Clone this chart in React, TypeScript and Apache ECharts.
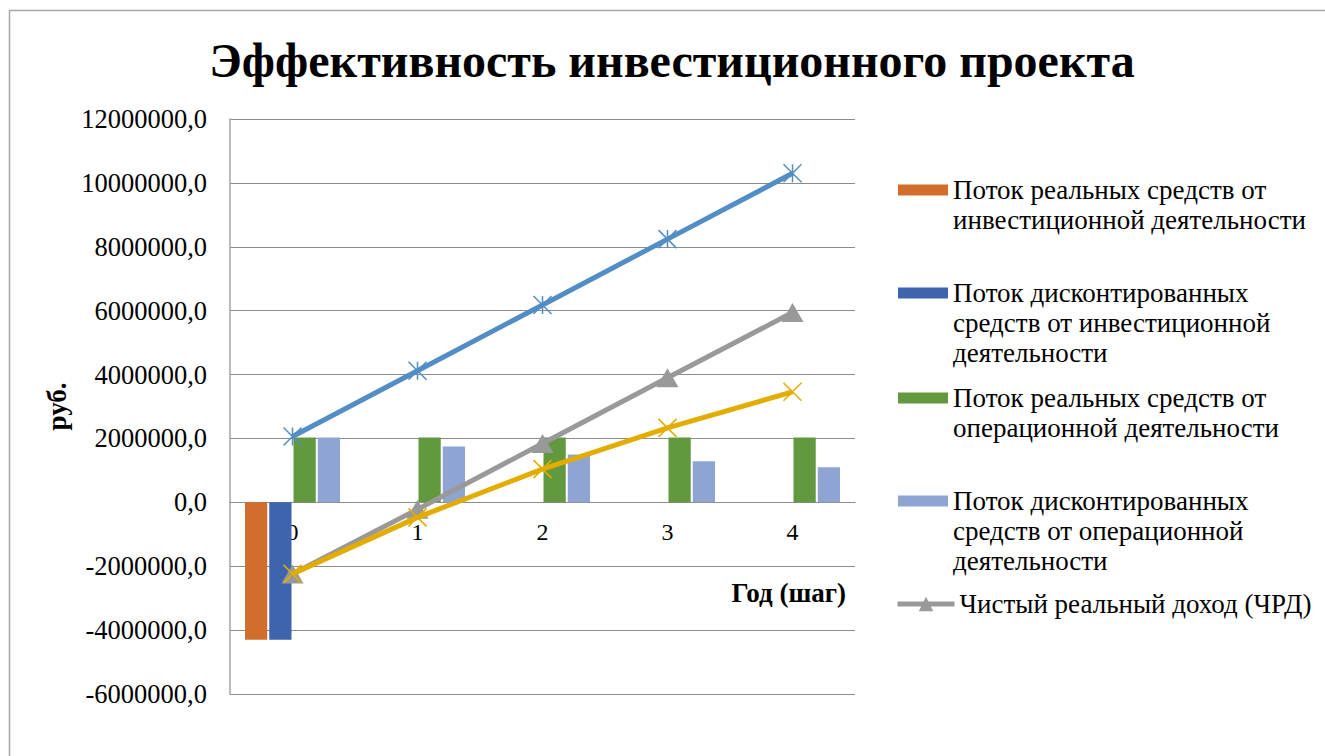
import React, { useEffect, useRef } from 'react';
import * as echarts from 'echarts';

const FONT = 'Liberation Serif';

const categories = ['0', '1', '2', '3', '4'];
const yTicks = { min: -6000000, max: 12000000, interval: 2000000 };

const realInvestFlow = [-4300000, null, null, null, null];
const discInvestFlow = [-4300000, null, null, null, null];
const realOperFlow = [2030000, 2030000, 2030000, 2030000, 2030000];
const discOperFlow = [2030000, 1750000, 1500000, 1290000, 1100000];
const accumOperFlow = [2060000, 4120000, 6180000, 8240000, 10300000];
const netRealIncome = [-2240000, -220000, 1840000, 3900000, 5940000];
const netPresentValue = [-2240000, -470000, 1040000, 2330000, 3460000];

const N1 = 'Поток реальных средств от инвестиционной деятельности';
const N2 = 'Поток дисконтированных средств от инвестиционной деятельности';
const N3 = 'Поток реальных средств от операционной деятельности';
const N4 = 'Поток дисконтированных средств от операционной деятельности';
const N5 = 'Чистый реальный доход (ЧРД)';
const N6 = 'Накопленный поток реальных средств от операционной деятельности';
const N7 = 'Чистый дисконтированный доход (ЧДД)';

const legendLines: Record<string, string[]> = {
  [N1]: ['Поток реальных средств от', 'инвестиционной деятельности'],
  [N2]: ['Поток дисконтированных', 'средств от инвестиционной', 'деятельности'],
  [N3]: ['Поток реальных средств от', 'операционной деятельности'],
  [N4]: ['Поток дисконтированных', 'средств от операционной', 'деятельности'],
  [N5]: ['Чистый реальный доход (ЧРД)'],
};

const LH = 30;

function mkLegend(name: string, firstLineCenter: number, isLine: boolean) {
  const lines = legendLines[name];
  const n = lines.length;
  return {
    data: [name],
    orient: 'vertical',
    left: isLine ? 895 : 898,
    top: firstLineCenter - ((2 * n - 1) * LH) / 2,
    padding: 0,
    itemGap: 0,
    itemWidth: isLine ? 57 : 50,
    itemHeight: isLine ? 18 : 11,
    selectedMode: false,
    formatter: () => '\n'.repeat(n - 1) + lines.join('\n'),
    textStyle: { fontFamily: FONT, fontSize: 27, lineHeight: LH, color: '#000' },
    ...(isLine ? { lineStyle: { width: 5 } } : { icon: 'rect' }),
  };
}

const ASTERISK = 'path://M0,0L20,20M20,0L0,20M10,0L10,20';
const XMARK = 'path://M0,0L20,20M20,0L0,20';

export default function App() {
  const ref = useRef<HTMLDivElement>(null);
  useEffect(() => {
    if (!ref.current) return;
    const chart = echarts.init(ref.current, null, { renderer: 'svg' });
    const barCommon = { type: 'bar', barCategoryGap: '24%', barGap: '9%' };
    chart.setOption({
      animation: false,
      backgroundColor: '#fff',
      textStyle: { fontFamily: FONT },
      title: {
        text: 'Эффективность инвестиционного проекта',
        left: 667,
        textAlign: 'center',
        top: 31,
        textStyle: { fontFamily: FONT, fontSize: 48, fontWeight: 'bold', color: '#000' },
      },
      graphic: [
        {
          type: 'rect',
          shape: { x: 9.5, y: 10.5, width: 1400, height: 800 },
          style: { fill: 'none', stroke: '#a6a6a6', lineWidth: 1.5 },
          silent: true,
        },
        {
          type: 'text',
          x: 846,
          y: 593,
          style: {
            text: 'Год (шаг)',
            fontFamily: FONT,
            fontSize: 27,
            fontWeight: 'bold',
            fill: '#000',
            align: 'right',
            verticalAlign: 'middle',
          },
          silent: true,
        },
      ],
      legend: [
        mkLegend(N1, 190, false),
        mkLegend(N2, 293, false),
        mkLegend(N3, 398, false),
        mkLegend(N4, 501, false),
        mkLegend(N5, 604, true),
      ],
      grid: { left: 230, right: 470, top: 119, bottom: 62, containLabel: false },
      xAxis: {
        type: 'category',
        data: categories,
        offset: -192,
        axisLine: { onZero: false, lineStyle: { color: '#8c8c8c', width: 1 } },
        axisTick: { show: false },
        axisLabel: { fontFamily: FONT, fontSize: 24, color: '#000', margin: 18 },
        splitLine: { show: false },
      },
      yAxis: {
        type: 'value',
        min: yTicks.min,
        max: yTicks.max,
        interval: yTicks.interval,
        axisLine: { show: true, lineStyle: { color: '#a6a6a6', width: 1.5 } },
        axisTick: { show: false },
        splitLine: { lineStyle: { color: '#8c8c8c', width: 1 } },
        axisLabel: {
          fontFamily: FONT,
          fontSize: 26.5,
          color: '#000',
          margin: 23,
          formatter: (v: number) => v.toFixed(1).replace('.', ','),
        },
        name: 'руб.',
        nameLocation: 'middle',
        nameRotate: 90,
        nameGap: 160,
        nameTextStyle: { fontFamily: FONT, fontSize: 27, fontWeight: 'bold', color: '#000' },
      },
      series: [
        { ...barCommon, name: N1, data: realInvestFlow, itemStyle: { color: '#D26E2B' } },
        { ...barCommon, name: N2, data: discInvestFlow, itemStyle: { color: '#3D64AC' } },
        { ...barCommon, name: N3, data: realOperFlow, itemStyle: { color: '#62993E' } },
        { ...barCommon, name: N4, data: discOperFlow, itemStyle: { color: '#8EA5D4' } },
        {
          type: 'line',
          name: N6,
          data: accumOperFlow,
          symbol: ASTERISK,
          symbolSize: 18,
          lineStyle: { color: '#528DC5', width: 5 },
          itemStyle: { color: '#528DC5', borderColor: '#528DC5', borderWidth: 1.5 },
          z: 3,
        },
        {
          type: 'line',
          name: N5,
          data: netRealIncome,
          symbol: 'triangle',
          symbolSize: [22, 19],
          lineStyle: { color: '#999999', width: 5 },
          itemStyle: { color: '#999999' },
          z: 4,
        },
        {
          type: 'line',
          name: N7,
          data: netPresentValue,
          symbol: XMARK,
          symbolSize: 18,
          lineStyle: { color: '#E2AC00', width: 5 },
          itemStyle: { color: '#E2AC00', borderColor: '#E2AC00', borderWidth: 1.5 },
          z: 5,
        },
      ],
    });
    return () => chart.dispose();
  }, []);
  return (
    <div
      ref={ref}
      style={{ position: 'fixed', left: 0, top: 0, width: 1325, height: 756 }}
    />
  );
}
